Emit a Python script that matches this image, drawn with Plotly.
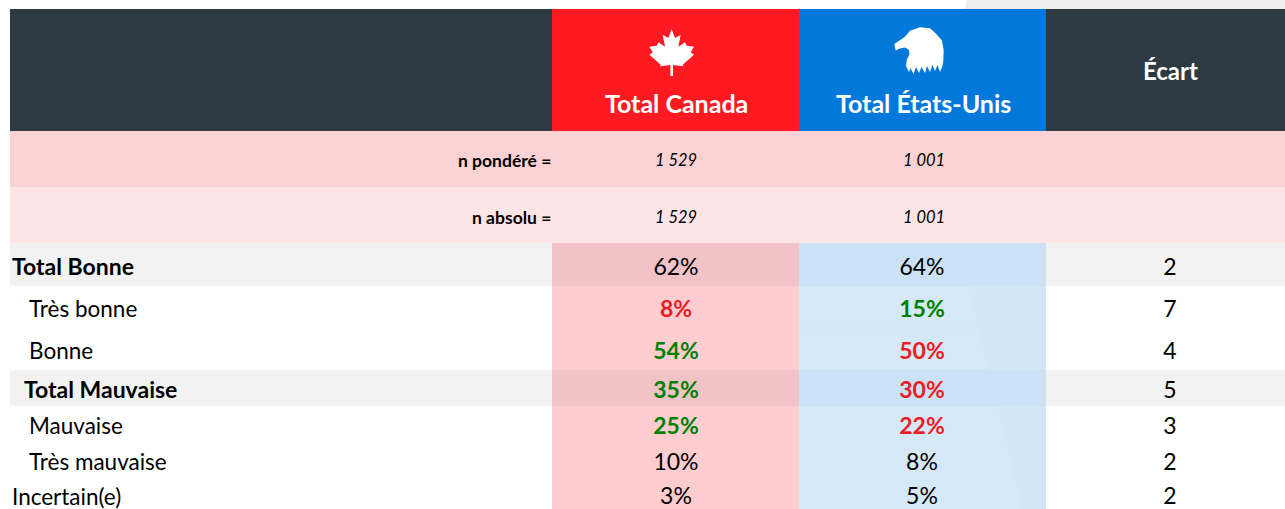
import plotly.graph_objects as go

# ---- data ----
row_labels = ["Total Bonne", "Très bonne", "Bonne", "Total Mauvaise", "Mauvaise", "Très mauvaise", "Incertain(e)"]
canada = ["62%", "8%", "54%", "35%", "25%", "10%", "3%"]
usa = ["64%", "15%", "50%", "30%", "22%", "8%", "5%"]
ecart = ["2", "7", "4", "5", "3", "2", "2"]
canada_state = ["n", "lo", "hi", "hi", "hi", "n", "n"]
usa_state = ["n", "hi", "lo", "lo", "lo", "n", "n"]
columns = ["Total Canada", "Total États-Unis", "Écart"]
base_labels = ["n pondéré =", "n absolu ="]
base_canada = ["1 529", "1 529"]
base_usa = ["1 001", "1 001"]

# ---- layout grid ----
W, H = 1285, 509
X0, XC, XU, XE, X1 = 10, 552, 799, 1046, 1285
COL_C, COL_U, COL_E = 676, 922, 1170
ROW_EDGES = [243, 286, 329, 370, 406, 443, 480, 509]
VAL_Y = [269, 311, 353, 392, 428, 464, 498]
LAB_Y = [266, 308, 350, 389, 425, 461, 496]
LABEL_X = [12, 29, 29, 24, 29, 29, 12]
BASE_Y = [160, 217]
BOLD_ROWS = {0, 3}

DARK, RED, BLUE = "#2d3a42", "#ff1a22", "#0278da"
TXT_RED, TXT_GREEN = "#ed1c24", "#008000"
FONT = "Lato"

def rect(x0, y0, x1, y1, color):
    return dict(type="rect", xref="x", yref="y", x0=x0, y0=y0, x1=x1, y1=y1,
                fillcolor=color, line=dict(width=0), layer="below")

def poly(pts, color):
    d = "M" + " L".join(f"{x},{y}" for x, y in pts) + " Z"
    return dict(type="path", xref="x", yref="y", path=d, fillcolor=color, line=dict(width=0), layer="below")

shapes = [
    poly([(965, 9), (967, 0), (W, 0), (W, 9)], "#ededed"),
    rect(X0, 9, X1, 131, DARK),
    rect(XC, 9, XU, 131, RED),
    rect(XU, 9, XE, 131, BLUE),
    rect(X0, 131, X1, 187, "#fad2d3"),
    rect(X0, 187, X1, 243, "#fde5e6"),
    rect(XC, 243, XU, H, "#ffcdd0"),
    rect(XU, 243, XE, H, "#d5e8f8"),
    poly([(968, 286), (XE, 286), (XE, H), (1022, H)], "#d3e6f6"),
]
for i in BOLD_ROWS:
    y0, y1 = ROW_EDGES[i], ROW_EDGES[i + 1]
    shapes += [rect(X0, y0, XC, y1, "#f2f2f2"), rect(XC, y0, XU, y1, "#f2c3c6"),
               rect(XU, y0, XE, y1, "#cbe2f6"), rect(XE, y0, X1, y1, "#f2f2f2")]

# maple leaf: right half traced, mirrored about its axis
LEAF_CX = 671.7
leaf_right = [(671.7, 29.3), (675, 38), (680.7, 35), (678.3, 46.7), (685, 42.3), (686.7, 45.7), (694, 46.7),
              (690.7, 52.3), (694, 54.7), (682.7, 64.7), (683.3, 66.3), (673, 65), (673, 76)]
leaf = leaf_right + [(2 * LEAF_CX - x, y) for x, y in reversed(leaf_right)]
shapes.append(poly(leaf, "white"))

eagle = [(895.7, 50.7), (894.3, 44), (905, 36.7), (910, 30.7), (920, 27.3), (930, 28.3), (935, 32.7),
         (941.7, 40), (943.7, 50), (943.3, 60.7), (942.5, 66), (940, 72), (937.5, 65), (935, 71), (932.5, 65),
         (930, 72), (927, 66), (925, 73), (921.5, 67), (919, 73), (916, 67), (913.5, 74), (910.5, 68), (909, 72),
         (906, 66), (906.7, 60), (909.5, 54), (909, 50), (905, 47.5), (899, 48.7)]
shapes.append(poly(eagle, "white"))
shapes.append(dict(type="line", xref="x", yref="y", x0=XU, x1=XE, y0=328, y1=328,
                   line=dict(color="#cfe3f4", width=1), layer="below"))

def state_color(s):
    return {"n": "#000000", "hi": TXT_GREEN, "lo": TXT_RED}[s]

def bold_if(s):
    return "bold" if s != "n" else "normal"

fig = go.Figure()
for col_x, vals, states in [(COL_C, canada, canada_state), (COL_U, usa, usa_state), (COL_E, ecart, ["n"] * 7)]:
    fig.add_trace(go.Scatter(
        x=[col_x] * len(vals), y=VAL_Y, text=vals, mode="text", textposition="middle center",
        textfont=dict(family=FONT, size=23, color=[state_color(s) for s in states],
                      weight=[bold_if(s) for s in states]),
        hoverinfo="skip", showlegend=False, cliponaxis=False))

ann = []
def text(x, y, t, size, color="#000000", bold=False, italic=False, anchor="center"):
    s = t
    if bold: s = f"<b>{s}</b>"
    if italic: s = f"<i>{s}</i>"
    ann.append(dict(x=x, y=y, xref="x", yref="y", text=s, showarrow=False, xanchor=anchor, yanchor="middle",
                    font=dict(family=FONT, size=size, color=color), borderpad=0, borderwidth=0))

for i, lab in enumerate(row_labels):
    text(LABEL_X[i], LAB_Y[i], lab, 23 if i in BOLD_ROWS else 22.5, bold=i in BOLD_ROWS, anchor="left")
for i, lab in enumerate(base_labels):
    text(XC - 1, BASE_Y[i], lab, 17.5, bold=True, anchor="right")
    text(COL_C, BASE_Y[i], base_canada[i], 16.5, italic=True)
    text(COL_U + 2, BASE_Y[i], base_usa[i], 16.5, italic=True)
text(COL_C, 102.5, columns[0], 25, "white", bold=True)
text(COL_U + 1, 102.5, columns[1], 25, "white", bold=True)
text(COL_E, 70, columns[2], 24, "white", bold=True)

fig.update_layout(
    width=W, height=H, margin=dict(l=0, r=0, t=0, b=0), paper_bgcolor="white", plot_bgcolor="white",
    xaxis=dict(range=[0, W], visible=False, fixedrange=True),
    yaxis=dict(range=[H, 0], visible=False, fixedrange=True),
    shapes=shapes, annotations=ann, showlegend=False,
)
fig.write_html("out.html", config={"displayModeBar": False},
               post_script="document.body.style.margin='0';document.documentElement.style.overflow='hidden';")
